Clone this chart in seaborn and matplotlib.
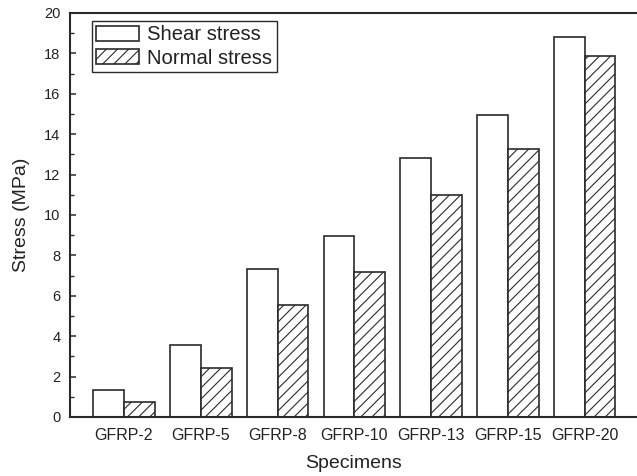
import matplotlib
matplotlib.use("Agg")
import matplotlib.pyplot as plt
import seaborn as sns
import pandas as pd

specimens = ["GFRP-2", "GFRP-5", "GFRP-8", "GFRP-10", "GFRP-13", "GFRP-15", "GFRP-20"]
shear_stress = [1.35, 3.58, 7.33, 8.98, 12.82, 14.97, 18.80]
normal_stress = [0.73, 2.43, 5.53, 7.19, 10.99, 13.27, 17.89]
series_names = ["Shear stress", "Normal stress"]
y_ticks = [0, 2, 4, 6, 8, 10, 12, 14, 16, 18, 20]

df = pd.DataFrame({
    "Specimens": specimens * 2,
    "Stress": shear_stress + normal_stress,
    "Type": [series_names[0]] * len(specimens) + [series_names[1]] * len(specimens),
})

sns.set_style("ticks")
plt.rcParams["font.family"] = ["Liberation Sans", "DejaVu Sans"]
plt.rcParams["hatch.linewidth"] = 0.8
plt.rcParams["hatch.color"] = "#2a2a2a"

W, H = 637, 476
fig = plt.figure(figsize=(W / 100, H / 100), dpi=100)
ax = fig.add_axes([70 / W, 59 / H, (W - 70) / W, (417 - 13) / H])

edge = "#2a2a2a"
sns.barplot(data=df, x="Specimens", y="Stress", hue="Type", order=specimens,
            hue_order=series_names, palette=["white", "white"], edgecolor=edge,
            linewidth=1.2, width=0.8, ax=ax, legend=True)

hatches = ["", "///"]
for cont, h in zip(ax.containers, hatches):
    for p in cont:
        p.set_hatch(h)

ax.set_ylim(0, 20)
ax.set_xlim(-0.703, 6.68)
ax.set_yticks(y_ticks)
ax.set_yticks([v + 1 for v in y_ticks[:-1]], minor=True)
ax.tick_params(axis="y", which="major", direction="in", length=4.5, width=1.1,
               color=edge, pad=7, labelsize=10.5, labelcolor="#222222")
ax.tick_params(axis="y", which="minor", direction="in", length=3, width=1.0, color=edge)
ax.tick_params(axis="x", which="both", length=0, pad=8, labelsize=11.5, labelcolor="#222222")

for side in ["left", "top", "bottom"]:
    ax.spines[side].set_linewidth(1.5)
    ax.spines[side].set_color(edge)
ax.spines["right"].set_visible(False)

ax.set_xlabel("Specimens", fontsize=14, color="#222222")
ax.set_ylabel("Stress (MPa)", fontsize=14, color="#222222")
ax.xaxis.set_label_coords(0.5, -(463 - 417) / (417 - 13), transform=ax.transAxes)
ax.xaxis.label.set_va("center")
ax.yaxis.set_label_coords(-(70 - 22) / (W - 70), 0.5)
ax.yaxis.label.set_va("center")

handles, labels = ax.get_legend_handles_labels()
for hd, h in zip(handles, hatches):
    hd.set_hatch(h)
    hd.set_facecolor("white")
    hd.set_edgecolor(edge)
    hd.set_linewidth(1.2)
leg = ax.legend(handles, labels, loc="upper left",
                bbox_to_anchor=(92 / W, 1 - 21 / H), bbox_transform=fig.transFigure,
                borderaxespad=0, fontsize=14.6, frameon=True, fancybox=False,
                edgecolor=edge, framealpha=1, borderpad=0.22, labelspacing=0.2,
                handlelength=2.1, handleheight=0.8, handletextpad=0.4)
leg.get_frame().set_linewidth(1.0)
for t in leg.get_texts():
    t.set_color("#222222")

fig.savefig("out.png", dpi=100)
